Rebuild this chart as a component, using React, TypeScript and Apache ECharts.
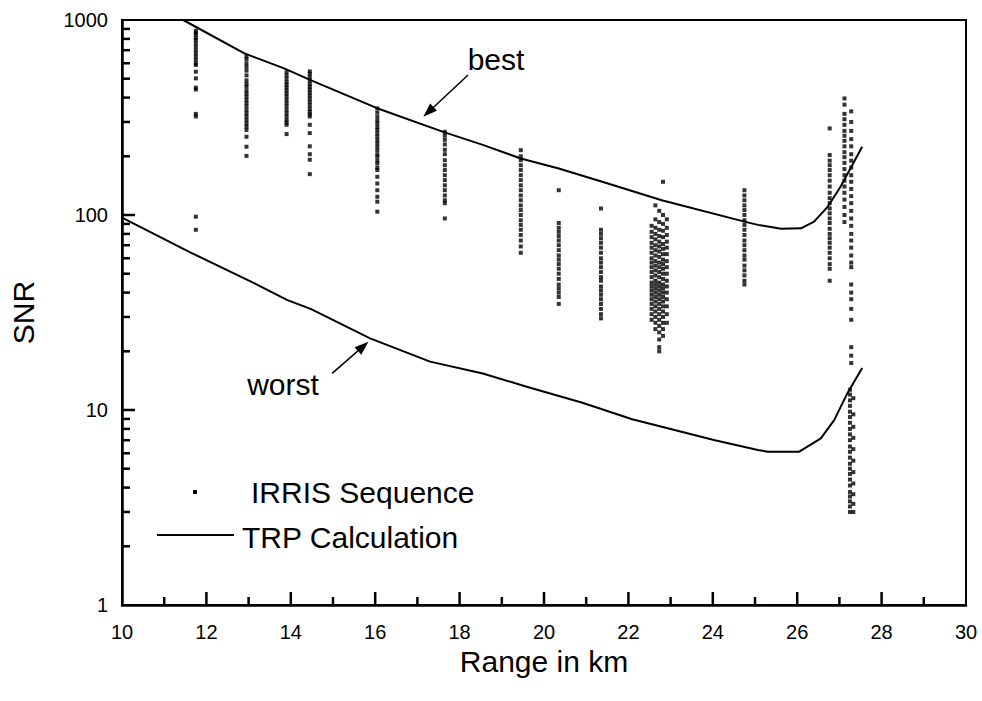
import React, { useEffect, useRef } from "react";
import * as echarts from "echarts";

// ---- Axis definitions ----
const xMin = 10;
const xMax = 30;
const xInterval = 2;
const xMinorTickValues = [11, 13, 15, 17, 19, 21, 23, 25, 27, 29];
const xMajorTickValues = [12, 14, 16, 18, 20, 22, 24, 26, 28];
const yMin = 1;
const yMax = 1000;
const yMajorTickValues = [10, 100];
const yMinorTickValues = [2, 3, 4, 5, 6, 7, 8, 9, 20, 30, 40, 50, 60, 70, 80, 90, 200, 300, 400, 500, 600, 700, 800, 900];

// ---- TRP Calculation curves ----
const bestX = [11.45, 12.9, 13.84, 14.47, 16.03, 17.61, 18.55, 19.45, 20.35, 21.38, 22.79, 24.75, 25.07, 25.62, 26.09, 26.4, 26.72, 27.03, 27.54];
const bestY = [1000, 674, 565, 492, 354, 267, 229, 195, 173, 148, 119, 92.5, 89, 85, 85.5, 92.5, 110, 140, 224];
const worstX = [10, 11.64, 13.13, 13.92, 14.47, 15.88, 17.3, 18.55, 19.57, 20.91, 22.09, 24.05, 25.07, 25.3, 26.05, 26.56, 26.88, 27.19, 27.54];
const worstY = [97, 64, 44.7, 36.6, 33, 23.3, 17.7, 15.4, 13.2, 10.9, 8.96, 7.0, 6.23, 6.11, 6.11, 7.16, 8.9, 12.2, 16.4];

// ---- IRRIS Sequence measurements (one array per range column) ----
const colX = [11.75, 12.95, 13.9, 14.45, 16.05, 17.65, 19.45, 20.35, 21.35, 22.55, 22.64, 22.73, 22.82, 22.91, 24.75, 26.77, 27.12, 27.28, 27.25, 27.33];
const c01 = [880, 860, 840, 810, 790, 760, 730, 700, 675, 650, 625, 600, 588, 543, 502, 450, 440, 330, 320, 98, 84];
const c02 = [650, 630, 600, 575, 550, 520, 490, 470, 455, 435, 420, 405, 390, 375, 360, 345, 332, 320, 307, 295, 284, 273, 252, 224, 201];
const c03 = [540, 520, 500, 480, 465, 450, 435, 420, 405, 390, 375, 360, 345, 332, 320, 307, 298, 290, 260];
const c04 = [545, 530, 510, 490, 470, 455, 440, 425, 410, 395, 380, 365, 350, 338, 328, 320, 290, 263, 225, 205, 192, 162];
const c05 = [352, 335, 319, 305, 295, 283, 273, 262, 252, 242, 233, 224, 215, 205, 199, 190, 184, 175, 170, 157, 145, 134, 124, 117, 104];
const c06 = [267, 255, 243, 230, 216, 205, 191, 180, 170, 160, 151, 142, 134, 126, 119, 115, 96];
const c07 = [215, 200, 191, 180, 170, 160, 151, 142, 134, 126, 119, 112, 106, 100, 94, 89, 84, 79, 74, 69, 64];
const c08 = [134, 91, 86, 82, 78, 74, 70, 66, 62, 59, 56, 53, 50, 47, 44, 42, 40, 38, 35];
const c09 = [108, 84, 80, 76, 72, 68, 64, 60, 57, 54, 51, 48, 46, 43, 41, 39, 37, 35, 33, 31, 29.5];
const c10a = [88, 82, 77, 72, 68, 64, 60, 57, 54, 51, 48, 45, 43, 41, 39, 37, 35, 33, 31, 29];
const c10b = [112, 95, 86, 80, 75, 70, 66, 62, 58, 55, 52, 49, 46, 44, 42, 40, 38, 36, 34, 32, 30, 28, 26];
const c10c = [105, 92, 84, 78, 73, 69, 65, 61, 57, 54, 51, 48, 45, 43, 41, 39, 37, 35, 33, 31, 29, 27, 25, 23, 21, 20];
const c10d = [148, 100, 90, 83, 77, 71, 67, 63, 59, 56, 53, 50, 47, 44, 42, 40, 38, 36, 34, 32, 30, 28, 26, 24];
const c10e = [95, 86, 79, 73, 68, 63, 58, 54, 50, 46, 43, 40, 37, 34, 31, 28];
const c11 = [134, 126, 119, 112, 106, 100, 94, 89, 84, 79, 74, 70, 66, 62, 59, 55, 52, 49, 46, 44];
const c12 = [278, 203, 190, 180, 170, 160, 150, 140, 130, 122, 115, 108, 102, 96, 91, 85, 80, 76, 72, 68, 64, 60, 56, 53, 46];
const c13a = [396, 368, 330, 310, 290, 270, 255, 240, 225, 210, 198, 185, 172, 160, 150, 140, 130, 120, 110, 100, 92];
const c13b = [340, 300, 270, 245, 225, 205, 190, 175, 160, 148, 136, 125, 115, 105, 96, 88, 80, 74, 68, 62, 57, 54, 44, 40, 37, 33, 29, 21, 19, 17.4];
const c13c = [12.7, 12, 11.2, 10.5, 9.8, 9.2, 8.6, 8, 7.5, 7, 6.5, 6.1, 5.7, 5.3, 5, 4.7, 4.4, 4.1, 3.8, 3.6, 3.4, 3.2, 3.0];
const c13d = [11.5, 9.5, 8.2, 7.2, 6.3, 5.5, 4.8, 4.2, 3.7, 3.3, 3.0];
const colValues = [c01, c02, c03, c04, c05, c06, c07, c08, c09, c10a, c10b, c10c, c10d, c10e, c11, c12, c13a, c13b, c13c, c13d];

// ---- Annotation anchors (data coordinates) ----
const bestArrow = { from: [18.2, 522], to: [17.14, 319] };
const worstArrow = { from: [14.98, 15.4], to: [15.84, 22.4] };
const bestLabel = "best";
const worstLabel = "worst";
const legendScatter = "IRRIS Sequence";
const legendLine = "TRP Calculation";

const FONT = "'Liberation Sans', Arial, Helvetica, sans-serif";

export default function App() {
  const ref = useRef<HTMLDivElement>(null);

  useEffect(() => {
    if (!ref.current) return;
    const chart = echarts.init(ref.current, null, { renderer: "svg" });

    const scatterData: number[][] = [];
    colValues.forEach((vals, i) => {
      vals.forEach((v) => scatterData.push([colX[i], v]));
    });
    const bestData = bestX.map((x, i) => [x, bestY[i]]);
    const worstData = worstX.map((x, i) => [x, worstY[i]]);

    chart.setOption({
      animation: false,
      backgroundColor: "#fff",
      textStyle: { fontFamily: FONT, color: "#000" },
      grid: {
        left: 117,
        right: 16,
        top: 20,
        bottom: 96,
        show: true,
        borderColor: "#000",
        borderWidth: 2,
        containLabel: false,
      },
      xAxis: {
        type: "value",
        min: xMin,
        max: xMax,
        interval: xInterval,
        name: "Range in km",
        nameLocation: "middle",
        nameGap: 41,
        nameMoveOverlap: false,
        nameTextStyle: { fontSize: 30, color: "#000", fontFamily: FONT },
        axisLine: { show: true, lineStyle: { color: "#000", width: 2.5 } },
        axisTick: { show: false },
        axisLabel: { fontSize: 20, color: "#000", margin: 17, fontFamily: FONT },
        splitLine: { show: false },
      },
      yAxis: {
        type: "log",
        logBase: 10,
        min: yMin,
        max: yMax,
        name: "SNR",
        nameLocation: "middle",
        nameGap: 84,
        nameRotate: 90,
        nameMoveOverlap: false,
        nameTextStyle: { fontSize: 30, color: "#000", fontFamily: FONT },
        axisLine: { show: true, lineStyle: { color: "#000", width: 2.5 } },
        axisTick: { show: false },
        axisLabel: {
          fontSize: 20,
          color: "#000",
          margin: 14,
          fontFamily: FONT,
          formatter: (v: number) => String(Math.round(v)),
        },
        splitLine: { show: false },
      },
      series: [
        {
          name: legendScatter,
          type: "scatter",
          data: scatterData,
          symbol: "rect",
          symbolSize: 4,
          itemStyle: { color: "#000" },
          z: 3,
        },
        {
          name: legendLine + " best",
          type: "line",
          data: bestData,
          showSymbol: false,
          symbol: "none",
          lineStyle: { color: "#000", width: 2 },
          z: 4,
        },
        {
          name: legendLine + " worst",
          type: "line",
          data: worstData,
          showSymbol: false,
          symbol: "none",
          lineStyle: { color: "#000", width: 2 },
          z: 4,
        },
      ],
    });

    const toPx = (p: number[]) => chart.convertToPixel({ gridIndex: 0 }, p) as number[];
    const graphics: any[] = [];

    const origin = toPx([xMin, yMin]);
    const tick = (x1: number, y1: number, x2: number, y2: number) =>
      graphics.push({
        type: "line",
        shape: { x1, y1, x2, y2 },
        style: { stroke: "#000", lineWidth: 2.5 },
        z: 100,
      });

    // left axis ticks (log scale)
    yMinorTickValues.forEach((v) => {
      const y = toPx([xMin, v])[1];
      tick(origin[0], y, origin[0] + 8, y);
    });
    yMajorTickValues.forEach((v) => {
      const y = toPx([xMin, v])[1];
      tick(origin[0], y, origin[0] + 13, y);
    });
    // bottom axis ticks
    xMinorTickValues.forEach((v) => {
      const x = toPx([v, yMin])[0];
      tick(x, origin[1], x, origin[1] - 8);
    });
    xMajorTickValues.forEach((v) => {
      const x = toPx([v, yMin])[0];
      tick(x, origin[1], x, origin[1] - 13);
    });

    const arrow = (a: { from: number[]; to: number[] }) => {
      const p1 = toPx(a.from);
      const p2 = toPx(a.to);
      const dx = p2[0] - p1[0];
      const dy = p2[1] - p1[1];
      const len = Math.sqrt(dx * dx + dy * dy);
      const ux = dx / len;
      const uy = dy / len;
      const hl = 14;
      const hw = 5;
      const bx = p2[0] - ux * hl;
      const by = p2[1] - uy * hl;
      graphics.push({
        type: "line",
        shape: { x1: p1[0], y1: p1[1], x2: bx, y2: by },
        style: { stroke: "#000", lineWidth: 1.5 },
        z: 10,
      });
      graphics.push({
        type: "polygon",
        shape: {
          points: [
            [p2[0], p2[1]],
            [bx - uy * hw, by + ux * hw],
            [bx + uy * hw, by - ux * hw],
          ],
        },
        style: { fill: "#000" },
        z: 10,
      });
    };
    arrow(bestArrow);
    arrow(worstArrow);

    graphics.push({
      type: "text",
      x: 496,
      y: 59,
      style: { text: bestLabel, font: `30px ${FONT}`, fill: "#000", textAlign: "center", textVerticalAlign: "middle" },
      z: 10,
    });
    graphics.push({
      type: "text",
      x: 283,
      y: 384,
      style: { text: worstLabel, font: `30px ${FONT}`, fill: "#000", textAlign: "center", textVerticalAlign: "middle" },
      z: 10,
    });

    // legend
    graphics.push({
      type: "rect",
      shape: { x: 193, y: 490, width: 4, height: 4 },
      style: { fill: "#000" },
      z: 10,
    });
    graphics.push({
      type: "text",
      x: 251,
      y: 492,
      style: { text: legendScatter, font: `30px ${FONT}`, fill: "#000", textAlign: "left", textVerticalAlign: "middle" },
      z: 10,
    });
    graphics.push({
      type: "line",
      shape: { x1: 157, y1: 535, x2: 234, y2: 535 },
      style: { stroke: "#000", lineWidth: 2 },
      z: 10,
    });
    graphics.push({
      type: "text",
      x: 242,
      y: 537,
      style: { text: legendLine, font: `30px ${FONT}`, fill: "#000", textAlign: "left", textVerticalAlign: "middle" },
      z: 10,
    });

    chart.setOption({ graphic: graphics });

    return () => chart.dispose();
  }, []);

  return (
    <div
      ref={ref}
      style={{ position: "fixed", left: 0, top: 0, width: 982, height: 701, background: "#fff" }}
    />
  );
}
